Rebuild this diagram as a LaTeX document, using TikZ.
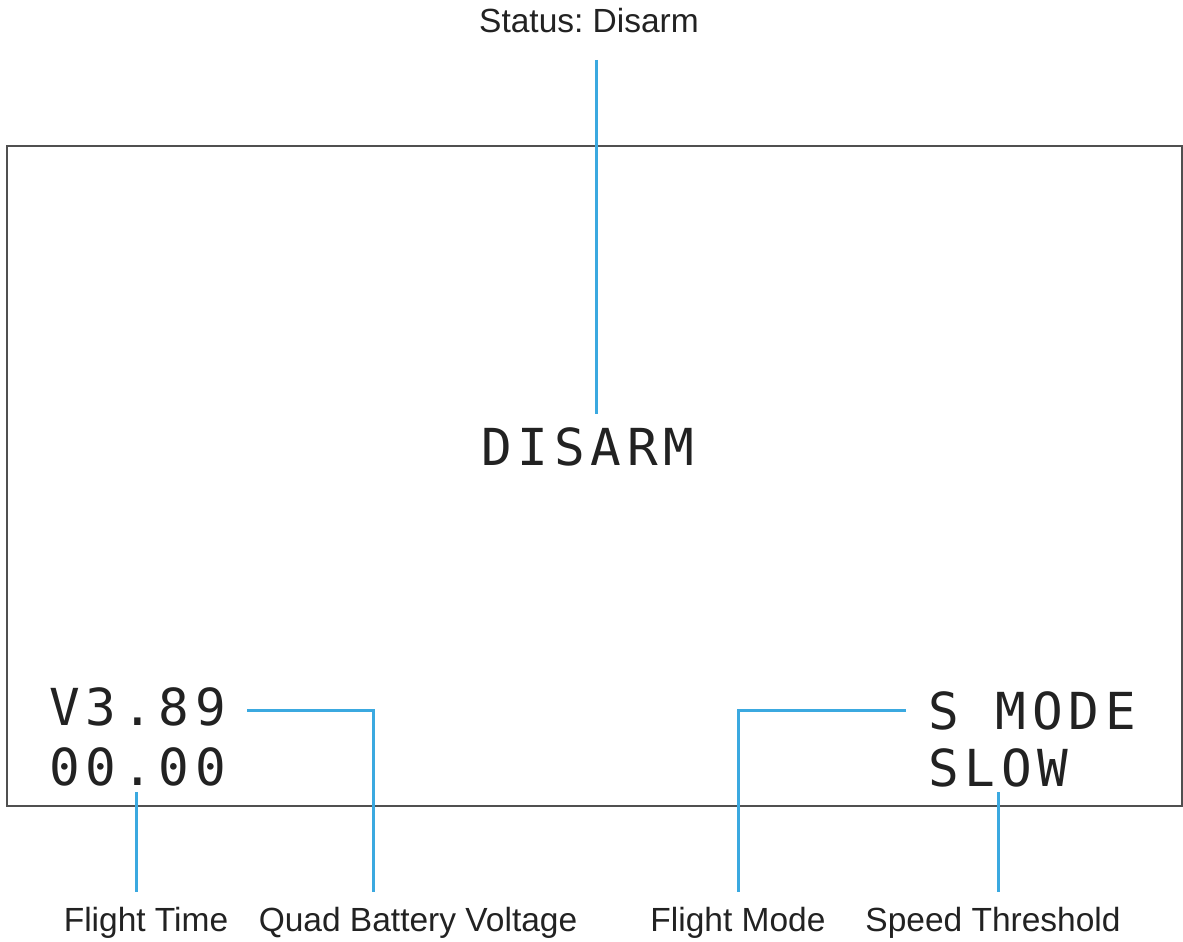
\documentclass[tikz,border=0pt]{standalone}
\usepackage{fontspec}
\setmainfont{Liberation Sans}
\newfontfamily\osdfont[LetterSpace=11.5]{DejaVu Sans Mono}
\definecolor{leader}{HTML}{3BA9E0}
\definecolor{frame}{HTML}{505050}
\definecolor{ink}{HTML}{222222}
\frenchspacing
\begin{document}
\begin{tikzpicture}[x=1pt,y=-1pt,
  lbl/.style={font=\fontsize{33.5}{38}\selectfont, text=ink, inner sep=0pt, anchor=base},
  osd/.style={font=\osdfont\fontsize{51}{56}\selectfont, text=ink, inner sep=0pt, anchor=base west},
  lead/.style={draw=leader, line width=3pt}]
\useasboundingbox (0,0) rectangle (1183,942);
\draw[frame, line width=2pt] (7,146) rectangle (1182,806);
% top label
\node[lbl] (status) at (589,33) {Status: Disarm};
\node[osd] (disarm) at (481,465) {DISARM};
\coordinate (sTop) at (596,60);
\coordinate (sBot) at (596,414);
\draw[lead] (sTop) -- (sBot);
% left readouts
\node[osd] (volt) at (49,725) {V3.89};
\node[osd] (time) at (49,785) {00.00};
% right readouts
\node[osd] (mode) at (928,729) {S MODE};
\node[osd] (speed) at (928,786) {SLOW};
% bottom labels
\node[lbl] (lTime) at (146,931) {Flight Time};
\node[lbl] (lVolt) at (418,931) {Quad Battery Voltage};
\node[lbl] (lMode) at (738,931) {Flight Mode};
\node[lbl] (lSpeed) at (993,931) {Speed Threshold};
% leaders
\coordinate (tA) at (136,792);
\coordinate (tB) at (136,892);
\draw[lead] (tA) -- (tB);
\coordinate (vA) at (247,710);
\coordinate (vB) at (373,892);
\draw[lead] (vA) -| (vB);
\coordinate (mA) at (906,710);
\coordinate (mB) at (738,892);
\draw[lead] (mA) -| (mB);
\coordinate (pA) at (998,792);
\coordinate (pB) at (998,892);
\draw[lead] (pA) -- (pB);
\end{tikzpicture}
\end{document}
